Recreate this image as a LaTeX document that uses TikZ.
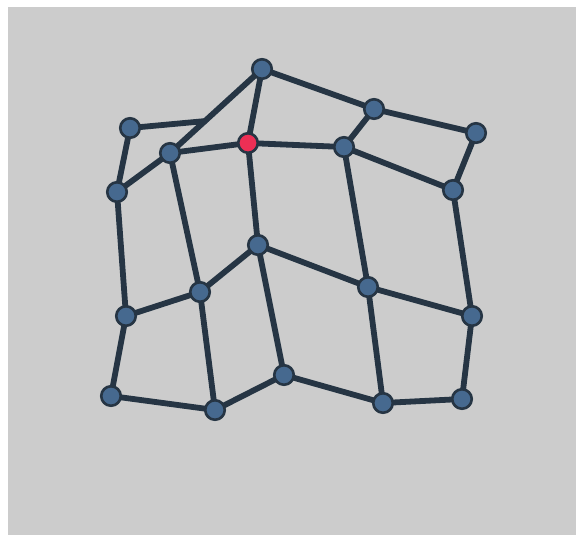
\documentclass[tikz,border=0pt]{standalone}
\usepackage{xcolor}
\usepackage{tikz}
\usetikzlibrary{calc,backgrounds}
\definecolor{gBack}{HTML}{CCCCCC}
\definecolor{gInk}{HTML}{263544}
\definecolor{gFill}{HTML}{46698F}
\definecolor{gHot}{HTML}{EC2F55}
\tikzset{
  vert/.style={circle, draw=gInk, fill=gFill, line width=1.5pt, minimum size=0.39cm, inner sep=0pt},
  hot/.style={vert, fill=gHot},
  edge/.style={draw=gInk, line width=3.3pt, line cap=round}
}

\begin{document}
\begin{tikzpicture}[x=0.02cm, y=-0.02cm]
  \useasboundingbox (0,0) rectangle (576,535);
  % vertices
  \node[vert] (a) at (262,69) {};
  \node[vert] (b) at (374,109) {};
  \node[vert] (c) at (476,133) {};
  \node[vert] (d) at (130,128) {};
  \node[vert] (e) at (170,153) {};
  \node[hot]  (r) at (248,143) {};
  \node[vert] (f) at (344,147) {};
  \node[vert] (g) at (453,190) {};
  \node[vert] (h) at (117,192) {};
  \node[vert] (i) at (258,245) {};
  \node[vert] (j) at (200,292) {};
  \node[vert] (k) at (368,287) {};
  \node[vert] (l) at (126,316) {};
  \node[vert] (m) at (472,316) {};
  \node[vert] (n) at (284,375) {};
  \node[vert] (o) at (111,396) {};
  \node[vert] (p) at (215,410) {};
  \node[vert] (q) at (383,403) {};
  \node[vert] (s) at (462,399) {};
  \coordinate (ea) at ($(e.center)!0.38!(a.center)$);
  % edges and backdrop behind the vertices
  \begin{pgfonlayer}{background}
    \fill[white] (0,0) rectangle (576,535);
    \fill[gBack] (8,7) rectangle (576,535);
    \foreach \u/\v in {d/h, h/e, e/a, d/ea, e/r, e/j, r/a, r/f, r/i, a/b, b/f, b/c,
                       f/g, c/g, f/k, g/m, i/j, i/k, i/n, j/l, j/p, h/l, l/o, o/p,
                       p/n, n/q, k/q, k/m, m/s, q/s}
      \draw[edge] (\u.center) -- (\v.center);
  \end{pgfonlayer}
\end{tikzpicture}
\end{document}
